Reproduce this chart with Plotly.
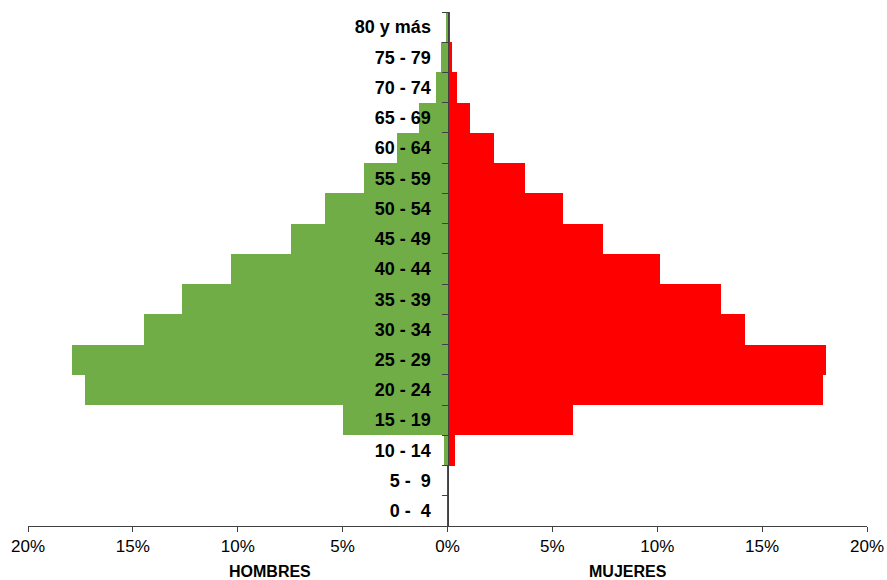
import plotly.graph_objects as go

# Age groups, youngest first (bottom of the pyramid)
grupos = ["0 -  4", "5 -  9", "10 - 14", "15 - 19", "20 - 24", "25 - 29", "30 - 34",
          "35 - 39", "40 - 44", "45 - 49", "50 - 54", "55 - 59", "60 - 64",
          "65 - 69", "70 - 74", "75 - 79", "80 y más"]

# Share of population by age group (%)
hombres = [0.0, 0.0, 0.19, 4.99, 17.26, 17.90, 14.48, 12.65, 10.32, 7.45, 5.84,
           3.96, 2.42, 1.34, 0.57, 0.33, 0.07]
mujeres = [0.02, 0.02, 0.37, 5.97, 17.90, 18.04, 14.18, 13.05, 10.12, 7.40, 5.49,
           3.68, 2.20, 1.08, 0.43, 0.22, 0.14]

tick_vals = [-20, -15, -10, -5, 0, 5, 10, 15, 20]
tick_text = ["20%", "15%", "10%", "5%", "0%", "5%", "10%", "15%", "20%"]

etiquetas = [g.replace("  ", " \u00a0") for g in grupos]

fig = go.Figure()
fig.add_trace(go.Bar(
    y=etiquetas, x=[-v for v in hombres], orientation="h", name="Hombres",
    marker=dict(color="#70AD47", line=dict(width=0)),
    hoverinfo="skip",
))
fig.add_trace(go.Bar(
    y=etiquetas, x=mujeres, orientation="h", name="Mujeres",
    marker=dict(color="#FF0000", line=dict(width=0)),
    hoverinfo="skip",
))

fig.update_layout(
    width=887, height=580,
    margin=dict(l=28, r=20, t=12, b=54, autoexpand=False),
    paper_bgcolor="white", plot_bgcolor="white",
    barmode="overlay", bargap=0,
    showlegend=False,
    font=dict(family="Liberation Sans, Arial, sans-serif", color="#000000"),
    xaxis=dict(
        range=[-20, 20], tickvals=tick_vals, ticktext=tick_text,
        showgrid=False, zeroline=False, automargin=False,
        showline=True, linecolor="#404040", linewidth=1,
        ticks="outside", ticklen=5, tickcolor="#404040",
        tickfont=dict(size=17, family="Liberation Sans, Arial, sans-serif"),
        fixedrange=True,
    ),
    yaxis=dict(
        type="category", categoryorder="array", categoryarray=etiquetas,
        anchor="free", position=0.5, automargin=False,
        showgrid=False, zeroline=False,
        showline=True, linecolor="#404040", linewidth=1,
        ticks="outside", ticklen=6, tickcolor="#404040", tickson="boundaries",
        ticklabelstandoff=13,
        tickfont=dict(size=18, family="Liberation Sans Narrow, Arial Narrow, Liberation Sans, Arial",
                      weight="bold"),
        fixedrange=True,
    ),
)

fig.add_annotation(text="<b>HOMBRES</b>", x=-8.46, xref="x", y=-0.088, yref="paper",
                   xanchor="center", yanchor="middle", showarrow=False,
                   font=dict(size=16, family="Liberation Sans, Arial, sans-serif"))
fig.add_annotation(text="<b>MUJERES</b>", x=8.62, xref="x", y=-0.088, yref="paper",
                   xanchor="center", yanchor="middle", showarrow=False,
                   font=dict(size=16, family="Liberation Sans, Arial, sans-serif"))

fig.write_html("out.html")
